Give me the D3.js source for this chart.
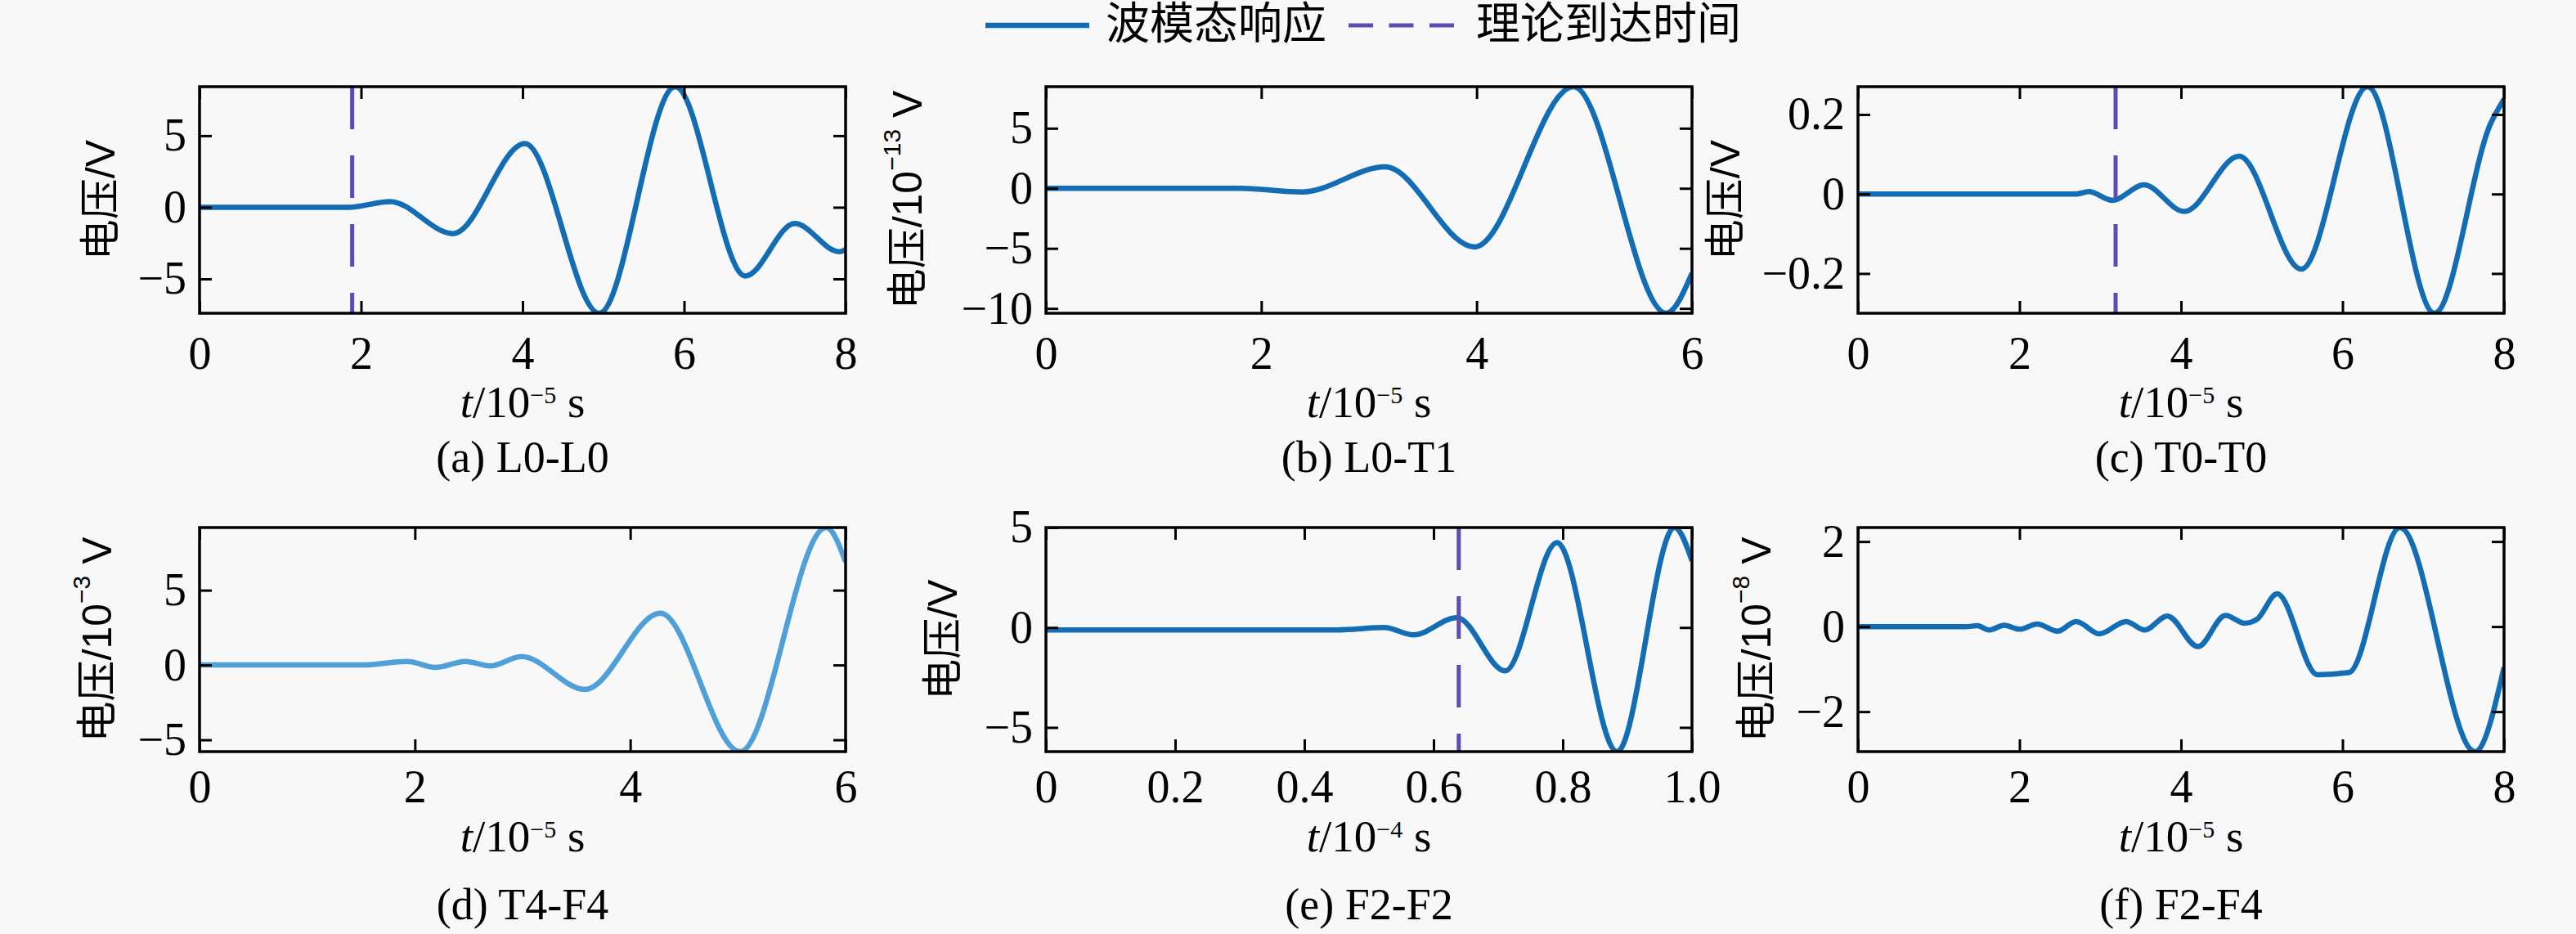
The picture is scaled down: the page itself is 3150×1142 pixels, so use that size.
<!DOCTYPE html>
<html>
<head>
<meta charset="utf-8">
<script src="https://cdn.jsdelivr.net/npm/d3@7"></script>
<style>
  body { margin: 0; background: #f8f8f8; }
  svg { display: block; }
</style>
</head>
<body>
<script>
// legend + captions
var legendLabels = ["波模态响应", "理论到达时间"];
var captions = ["(a) L0-L0", "(b) L0-T1", "(c) T0-T0", "(d) T4-F4", "(e) F2-F2", "(f) F2-F4"];
var yExp = [null, "−13", null, "−3", null, "−8"];   // 电压/10^n V
var xExp = ["−5", "−5", "−5", "−5", "−4", "−5"];    // t/10^n s

// waveforms (t in units of the x label, v in units of the y label)
// mostly the turning points; the monotone curve rounds them off like the original
var tA = [0, 1.85, 2.36, 3.14, 4.03, 4.95, 5.89, 6.76, 7.37, 7.92, 8.0];
var vA = [0, 0, 0.4, -1.84, 4.45, -7.4, 8.42, -4.8, -1.13, -3.1, -2.95];

var tB = [0, 1.8, 2.38, 3.15, 3.98, 4.9, 5.76, 6.0];
var vB = [0, 0, -0.3, 1.78, -4.88, 8.46, -10.4, -7.07];

var tC = [0, 2.7, 2.86, 3.15, 3.54, 4.04, 4.72, 5.49, 6.31, 7.14, 7.84, 8.0];
var vC = [0, 0, 0.006, -0.016, 0.023, -0.044, 0.095, -0.189, 0.27, -0.30, 0.18, 0.239];

var tD = [0, 1.5, 1.93, 2.19, 2.47, 2.70, 2.99, 3.58, 4.28, 5.02, 5.82, 6.0];
var vD = [0, 0, 0.24, -0.16, 0.24, -0.06, 0.57, -1.63, 3.46, -5.79, 9.19, 6.9];

var tE = [0, 0.45, 0.524, 0.569, 0.636, 0.711, 0.791, 0.884, 0.973, 1.0];
var vE = [-0.12, -0.12, 0, -0.37, 0.49, -2.17, 4.24, -6.21, 5.0, 3.34];

var tF = [0, 1.33, 1.48, 1.62, 1.81, 2.0, 2.22, 2.47, 2.7, 2.99, 3.32, 3.55, 3.83, 4.21, 4.55, 4.79, 4.94, 5.19, 5.69, 6.08, 6.71, 7.64, 8.0];
var vF = [0, 0, 0.02, -0.08, 0.03, -0.06, 0.06, -0.11, 0.12, -0.17, 0.12, -0.08, 0.25, -0.47, 0.26, 0.08, 0.17, 0.77, -1.13, -1.08, 2.33, -2.94, -0.96];

// theoretical arrival time (dashed line), null = not drawn
var arrivalT = [1.89, null, 3.19, null, 0.639, null];

// ticks
var xTicksA = [0, 2, 4, 6, 8], xLabelsA = ["0", "2", "4", "6", "8"];
var xTicksB = [0, 2, 4, 6], xLabelsB = ["0", "2", "4", "6"];
var xTicksE = [0, 0.2, 0.4, 0.6, 0.8, 1.0], xLabelsE = ["0", "0.2", "0.4", "0.6", "0.8", "1.0"];
var yTicksA = [-5, 0, 5], yLabelsA = ["−5", "0", "5"];
var yTicksB = [-10, -5, 0, 5], yLabelsB = ["−10", "−5", "0", "5"];
var yTicksC = [-0.2, 0, 0.2], yLabelsC = ["−0.2", "0", "0.2"];
var yTicksF = [-2, 0, 2], yLabelsF = ["−2", "0", "2"];

var panels = [
  {t: tA, v: vA, xt: xTicksA, xl: xLabelsA, yt: yTicksA, yl: yLabelsA},
  {t: tB, v: vB, xt: xTicksB, xl: xLabelsB, yt: yTicksB, yl: yLabelsB},
  {t: tC, v: vC, xt: xTicksA, xl: xLabelsA, yt: yTicksC, yl: yLabelsC},
  {t: tD, v: vD, xt: xTicksB, xl: xLabelsB, yt: yTicksA, yl: yLabelsA},
  {t: tE, v: vE, xt: xTicksE, xl: xLabelsE, yt: yTicksA, yl: yLabelsA},
  {t: tF, v: vF, xt: xTicksA, xl: xLabelsA, yt: yTicksF, yl: yLabelsF}
];

// layout
var W = 3150, H = 1142;
var colLeft = [244, 1279, 2272], colWidth = 790;
var rowTop = [106, 645], rowHeight = [277, 274];
var tickBase = [68, 62], xlabelBase = [127, 122], captionBase = [194, 205];
var ylabelGap = [121, 169, 162, 125, 126, 124];
var tickFont = 56;
var lineColors = ["#126db5", "#126db5", "#126db5", "#4f9fd9", "#126db5", "#126db5"];
var dashColor = "#5e4bb5";
var serif = "'Liberation Serif', 'Times New Roman', serif";
var cjk = "'Liberation Sans', 'Noto Sans CJK SC', sans-serif";

var svg = d3.select("body").append("svg").attr("width", W).attr("height", H);
svg.append("rect").attr("width", W).attr("height", H).attr("fill", "#f8f8f8");
var defs = svg.append("defs");

function styleAxis(sel) {
  sel.select(".domain").remove();
  sel.selectAll("line").attr("stroke", "#000").attr("stroke-width", 3);
  sel.selectAll("text").attr("font-family", serif).attr("font-size", tickFont).attr("fill", "#000");
}

function drawPanel(i) {
  var p = panels[i];
  var col = i % 3, row = Math.floor(i / 3);
  var w = colWidth, h = rowHeight[row];
  var g = svg.append("g").attr("transform", "translate(" + colLeft[col] + "," + rowTop[row] + ")");

  var x = d3.scaleLinear().domain(d3.extent(p.t)).range([0, w]);
  var y = d3.scaleLinear().domain(d3.extent(p.v)).range([h, 0]);

  defs.append("clipPath").attr("id", "clip" + i)
    .append("rect").attr("width", w).attr("height", h);

  var pts = p.t.map(function(t, k) { return {t: t, v: p.v[k]}; });
  var line = d3.line()
    .curve(d3.curveMonotoneX)
    .x(function(d) { return x(d.t); })
    .y(function(d) { return y(d.v); });

  g.append("path")
    .datum(pts)
    .attr("clip-path", "url(#clip" + i + ")")
    .attr("fill", "none")
    .attr("stroke", lineColors[i])
    .attr("stroke-width", 6.5)
    .attr("stroke-linejoin", "round")
    .attr("d", line);

  if (arrivalT[i] !== null) {
    g.append("line")
      .attr("x1", x(arrivalT[i])).attr("x2", x(arrivalT[i]))
      .attr("y1", 0).attr("y2", h)
      .attr("stroke", dashColor)
      .attr("stroke-width", 5)
      .attr("stroke-dasharray", "52 32");
  }

  // axes, ticks pointing inward on all four sides
  g.append("g").attr("transform", "translate(0," + h + ")")
    .call(d3.axisBottom(x).tickValues(p.xt).tickFormat(function(d, k) { return p.xl[k]; })
      .tickSize(-15).tickPadding(tickBase[row] - 0.71 * tickFont))
    .call(styleAxis);
  g.append("g")
    .call(d3.axisTop(x).tickValues(p.xt).tickFormat("").tickSize(-15))
    .call(styleAxis);
  g.append("g")
    .call(d3.axisLeft(y).tickValues(p.yt).tickFormat(function(d, k) { return p.yl[k]; })
      .tickSize(-15).tickPadding(16))
    .call(styleAxis);
  g.append("g").attr("transform", "translate(" + w + ",0)")
    .call(d3.axisRight(y).tickValues(p.yt).tickFormat("").tickSize(-15))
    .call(styleAxis);

  g.append("rect")
    .attr("width", w).attr("height", h)
    .attr("fill", "none").attr("stroke", "#000").attr("stroke-width", 3.5);

  // y label
  var yl = g.append("text")
    .attr("transform", "translate(" + (-ylabelGap[i]) + "," + (h / 2) + ") rotate(-90)")
    .attr("text-anchor", "middle")
    .attr("dominant-baseline", "central")
    .attr("font-family", cjk)
    .attr("font-size", 50);
  if (yExp[i] === null) {
    yl.text("电压/V");
  } else {
    yl.append("tspan").text("电压/10");
    yl.append("tspan").attr("font-size", 30).attr("dy", -20).text(yExp[i]);
    yl.append("tspan").attr("dy", 20).text(" V");
  }

  // x label
  var xl = g.append("text")
    .attr("x", w / 2).attr("y", h + xlabelBase[row])
    .attr("text-anchor", "middle")
    .attr("font-family", serif)
    .attr("font-size", 55);
  xl.append("tspan").attr("font-style", "italic").text("t");
  xl.append("tspan").text("/10");
  xl.append("tspan").attr("font-size", 30).attr("dy", -17).text(xExp[i]);
  xl.append("tspan").attr("dy", 17).text(" s");

  g.append("text")
    .attr("x", w / 2).attr("y", h + captionBase[row])
    .attr("text-anchor", "middle")
    .attr("font-family", serif)
    .attr("font-size", 54)
    .text(captions[i]);
}

for (var i = 0; i < panels.length; i++) {
  drawPanel(i);
}

// legend
var lg = svg.append("g").attr("transform", "translate(1205,31)");
lg.append("line").attr("x1", 0).attr("x2", 127).attr("y1", 0).attr("y2", 0)
  .attr("stroke", lineColors[0]).attr("stroke-width", 6.5);
lg.append("text").attr("x", 147).attr("y", 17)
  .attr("font-family", cjk).attr("font-size", 54).text(legendLabels[0]);
lg.append("line").attr("x1", 444).attr("x2", 573).attr("y1", 0).attr("y2", 0)
  .attr("stroke", dashColor).attr("stroke-width", 5).attr("stroke-dasharray", "30 19.5");
lg.append("text").attr("x", 600).attr("y", 17)
  .attr("font-family", cjk).attr("font-size", 54).text(legendLabels[1]);
</script>
</body>
</html>
